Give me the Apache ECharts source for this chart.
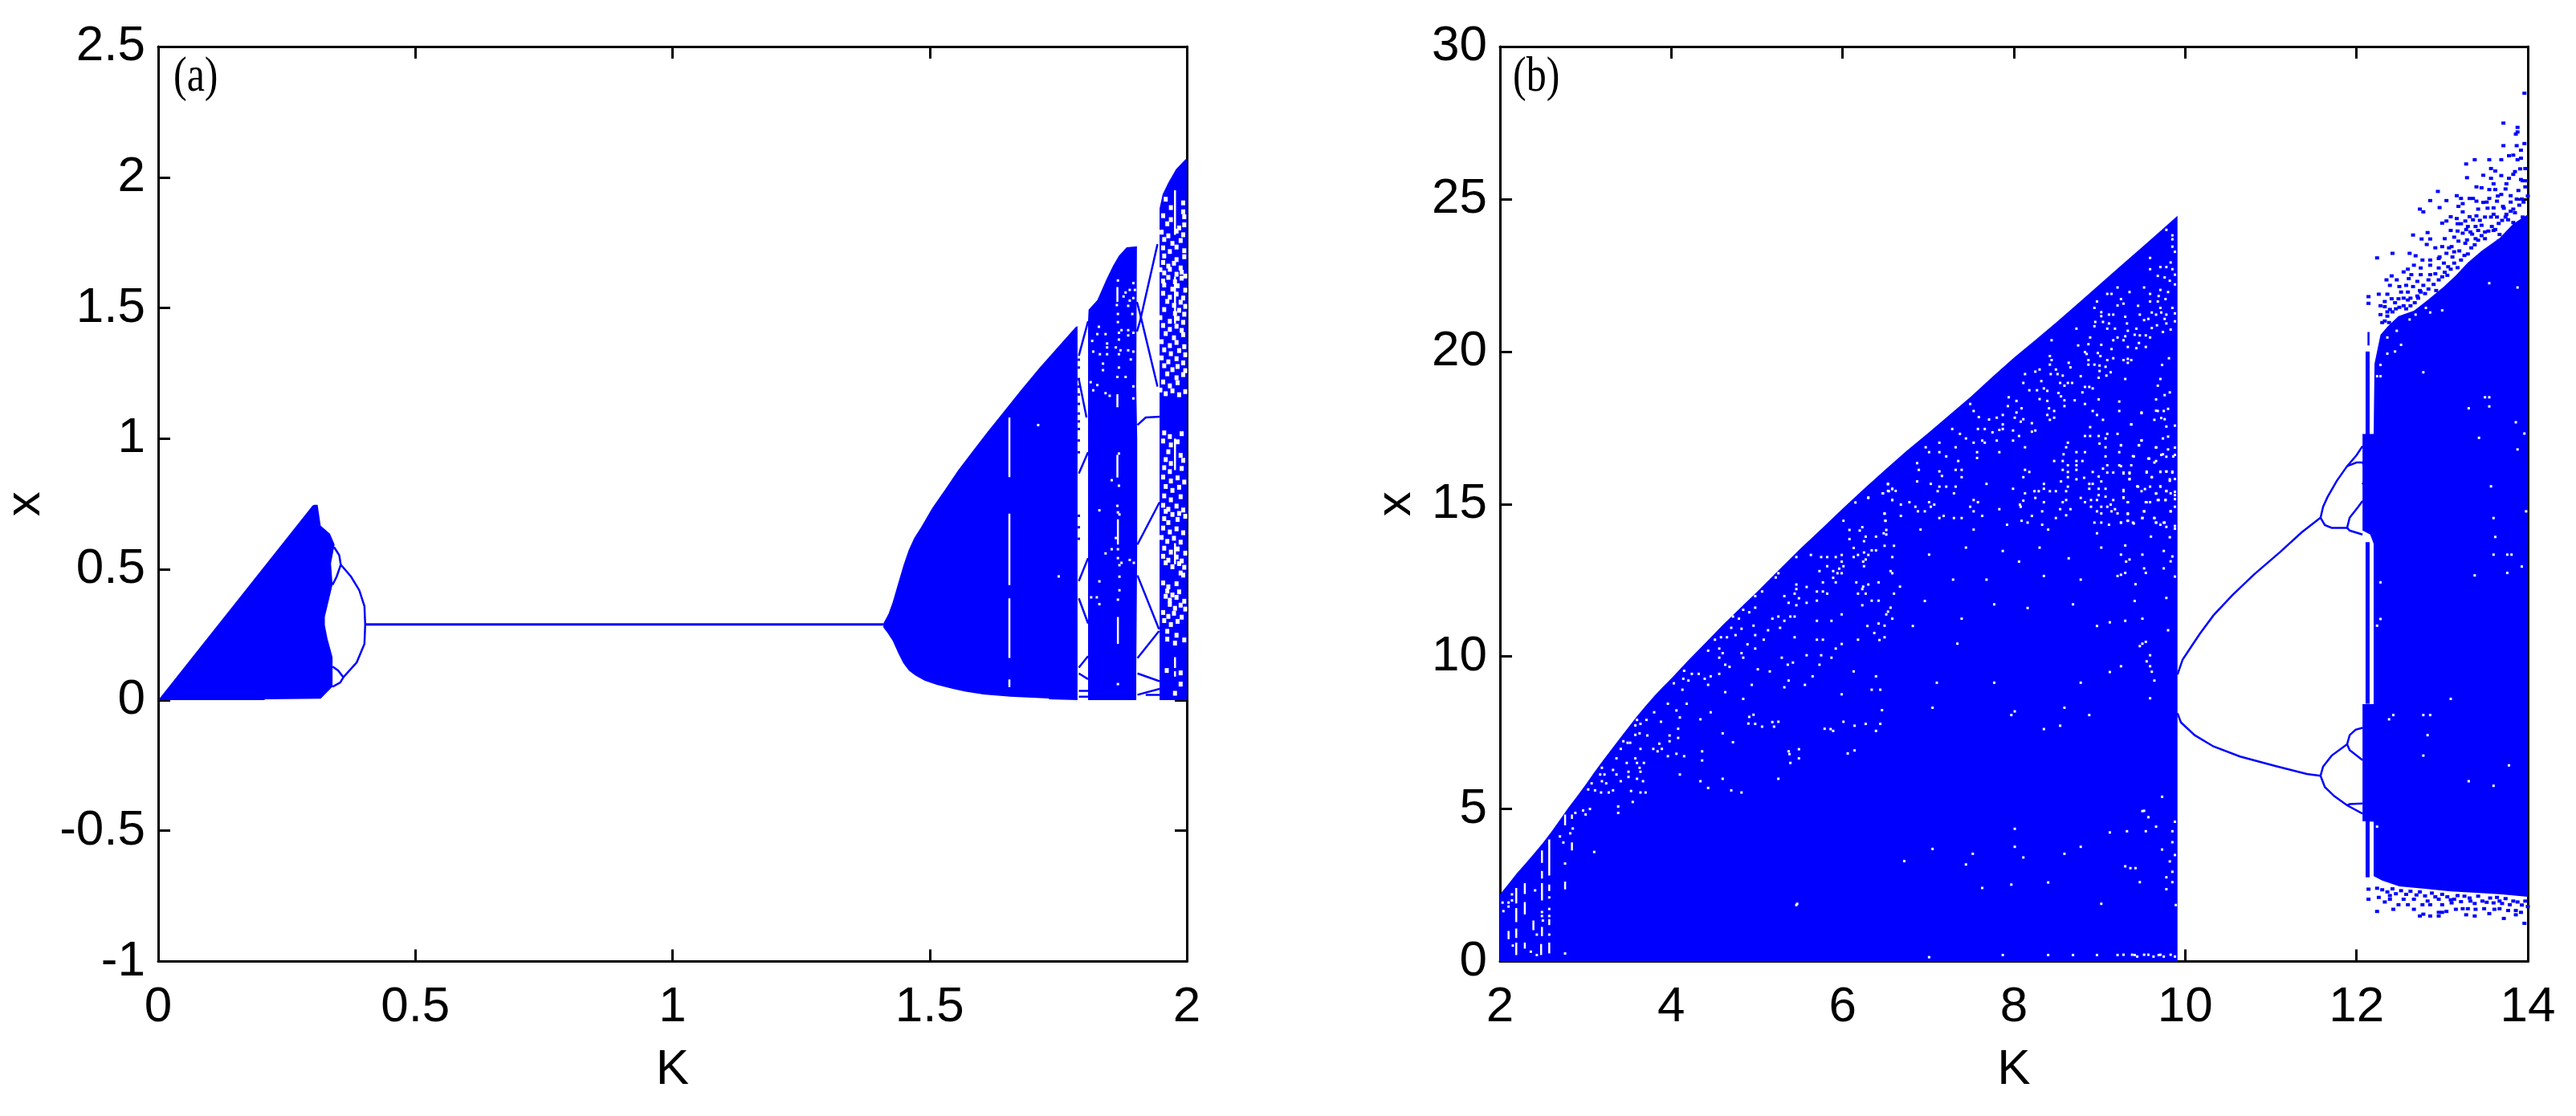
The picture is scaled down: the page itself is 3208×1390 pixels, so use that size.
<!DOCTYPE html>
<html><head><meta charset="utf-8">
<style>html,body{margin:0;padding:0;background:#fff}#c{width:3208px;height:1390px}</style>
<script src="https://cdn.jsdelivr.net/npm/echarts@6/dist/echarts.min.js"></script>
</head><body><div id="c"></div>
<script>
// ---------- panel (a) data: [K, x] ----------
const aTickK=['0','0.5','1','1.5','2'];
const aTickX=['-1','-0.5','0','0.5','1','1.5','2','2.5'];
const aFill1=[[0,0],[.30,.744],[.303,.747],[.31,.747],[.316,.667],[.334,.636],[.343,.595],[.336,.523],[.339,.441],[.324,.318],[.324,.287],[.329,.236],[.339,.164],[.339,.051],[.316,.005],[.207,.003],[.207,0]];
const aFill2=[[1.41,.293],[1.42,.33],[1.428,.374],[1.439,.448],[1.449,.515],[1.459,.573],[1.47,.62],[1.483,.66],[1.505,.735],[1.53,.805],[1.555,.878],[1.582,.948],[1.612,1.025],[1.644,1.103],[1.678,1.187],[1.714,1.272],[1.75,1.352],[1.784,1.427],[1.7875,1.43],[1.7875,0],[1.732,.003],[1.732,.006],[1.657,.013],[1.605,.021],[1.57,.032],[1.545,.043],[1.514,.058],[1.49,.074],[1.472,.094],[1.46,.112],[1.449,.14],[1.44,.175],[1.428,.227],[1.418,.257],[1.41,.278]];
const aFill3=[[1.808,0],[1.808,1.45],[1.809,1.493],[1.826,1.53],[1.844,1.611],[1.857,1.663],[1.868,1.70],[1.883,1.732],[1.903,1.736],[1.9017,1.2],[1.9035,1.0],[1.9035,.6],[1.9017,.1],[1.9017,0]];
const aFill4=[[1.947,0],[1.947,1.88],[1.953,1.935],[1.964,1.979],[1.979,2.031],[1.998,2.07],[2,2.07],[2,0]];
const aMainLine=[[.4025,.289],[1.41,.289]];
const aBranches=[
 [[.4025,.289],[.401,.359],[.391,.42],[.375,.472],[.355,.518],[.352,.554],[.342,.585]],
 [[.355,.518],[.347,.472],[.339,.441]],
 [[.4025,.289],[.401,.215],[.386,.144],[.36,.087],[.35,.113],[.339,.128]],
 [[.36,.087],[.354,.067],[.339,.051]],
 [[1.79,1.317],[1.808,1.449]],[[1.79,1.228],[1.805,1.081]],[[1.808,.948],[1.79,.867]],
 [[1.79,.455],[1.808,.543]],[[1.79,.389],[1.808,.293]],[[1.79,.124],[1.808,.168]],[[1.79,.102],[1.808,.08]],
 [[1.79,.013],[1.808,.013]],[[1.79,.035],[1.808,.035]],
 [[1.903,1.523],[1.909,1.479],[1.943,1.199]],[[1.903,1.41],[1.909,1.449],[1.943,1.744]],
 [[1.904,1.052],[1.92,1.081],[1.947,1.084]],[[1.904,.595],[1.947,.757]],
 [[1.904,.477],[1.946,.271]],[[1.904,.16],[1.946,.264]],[[1.904,.102],[1.947,.072]],
 [[1.904,.02],[1.947,.043]],[[1.92,.02],[1.947,.02]]
];
const aWhiteStripes=[[1.655,1.081,.853],[1.655,.713,.44],[1.655,.389,.161],[1.655,.079,.05],
 [1.865,1.58,1.523],[1.865,.938,.851],[1.866,.692,.595],[1.866,.318,.215],[1.865,1.17,1.12],
 [1.977,1.95,1.78],[1.977,1.62,1.44],[1.977,1.0,.88],[1.977,.6,.52],[1.977,.164,.123],[1.977,.11,.09]];
const aWhiteDots=[[1.711,1.052],[1.751,.473],[1.866,1.605],[1.896,1.595],[1.899,1.569],[1.889,1.569],[1.881,1.559],[1.877,1.544],[1.889,1.528],[1.886,1.508],[1.864,1.511],[1.896,1.538],[1.866,1.477],[1.894,1.477],[1.866,1.446],[1.829,1.428],[1.873,1.415],[1.886,1.415],[1.826,1.40],[1.842,1.40],[1.868,1.405],[1.896,1.405],[1.868,1.379],[1.886,1.395],[1.816,1.374],[1.845,1.364],[1.862,1.349],[1.845,1.349],[1.871,1.338],[1.886,1.338],[1.896,1.333],[1.818,1.333],[1.831,1.323],[1.845,1.323],[1.868,1.323],[1.891,1.303],[1.837,1.287],[1.868,1.272],[1.837,1.262],[1.865,1.236],[1.881,1.236],[1.813,1.216],[1.826,1.205],[1.896,1.2],[1.818,1.185],[1.842,1.174],[1.85,1.164],[1.896,1.154],[1.868,.943],[1.854,.841],[1.868,.82],[1.865,.743],[1.83,.726],[1.866,.718],[1.869,.71],[1.862,.62],[1.854,.577],[1.866,.577],[1.842,.561],[1.866,.543],[1.889,.536],[1.873,.525],[1.869,.516],[1.897,.525],[1.869,.472],[1.83,.454],[1.869,.42],[1.866,.384],[1.825,.393],[1.814,.393],[1.83,.367],[1.866,.061]];
const aWhiteChunks=[[1.959,1.916],[1.993,1.902],[1.969,1.884],[1.993,1.868],[1.954,1.853],[1.969,1.838],[1.995,1.849],[1.962,1.822],[1.985,1.806],[1.995,1.818],[1.951,1.79],[1.964,1.776],[1.98,1.794],[1.993,1.78],[1.956,1.762],[1.972,1.747],[1.988,1.758],[1.954,1.73],[1.967,1.716],[1.98,1.733],[1.995,1.719],[1.956,1.699],[1.98,1.685],[1.995,1.696],[1.954,1.674],[1.964,1.66],[1.975,1.671],[1.988,1.653],[1.9485,1.646],[1.956,1.634],[1.967,1.648],[1.98,1.629],[1.99,1.637],[1.997,1.622],[1.954,1.603],[1.964,1.617],[1.977,1.6],[1.99,1.614],[1.956,1.588],[1.972,1.572],[1.982,1.585],[1.997,1.568],[1.954,1.556],[1.967,1.541],[1.98,1.553],[1.993,1.538],[1.962,1.525],[1.975,1.51],[1.988,1.522],[1.997,1.506],[1.956,1.494],[1.977,1.479],[1.985,1.491],[1.995,1.476],[1.9485,1.463],[1.967,1.449],[1.982,1.46],[1.993,1.445],[1.954,1.433],[1.967,1.418],[1.98,1.43],[1.99,1.414],[1.959,1.402],[1.975,1.386],[1.993,1.398],[1.951,1.371],[1.967,1.356],[1.98,1.368],[1.995,1.352],[1.956,1.34],[1.969,1.325],[1.985,1.337],[1.997,1.321],[1.951,1.309],[1.964,1.294],[1.98,1.306],[1.993,1.29],[1.956,1.279],[1.972,1.264],[1.982,1.276],[1.997,1.26],[1.962,1.248],[1.98,1.233],[1.993,1.245],[1.954,1.217],[1.967,1.202],[1.982,1.214],[1.9485,1.186],[1.959,1.172],[1.972,1.183],[1.985,1.168],[1.997,1.18],
[1.956,1.022],[1.967,1.008],[1.99,1.019],[1.954,.991],[1.969,.976],[1.982,.988],[1.964,.95],[1.988,.936],[1.959,.92],[1.969,.905],[1.993,.917],[1.956,.889],[1.967,.874],[1.99,.886],[1.954,.853],[1.969,.838],[1.982,.85],[1.995,.834],[1.959,.817],[1.972,.802],[1.985,.814],[1.956,.781],[1.969,.766],[1.988,.778],[1.954,.745],[1.964,.73],[1.98,.742],[1.993,.727],[1.959,.722],[1.972,.71],[1.985,.714],[1.997,.703],[1.956,.694],[1.964,.679],[1.982,.691],[1.954,.658],[1.967,.643],[1.98,.655],[1.993,.64],[1.951,.622],[1.962,.607],[1.975,.619],[1.988,.604],[1.956,.581],[1.969,.566],[1.982,.578],[1.997,.562],[1.954,.55],[1.964,.535],[1.98,.547],[1.99,.532],[1.959,.525],[1.972,.51],[1.985,.522],[1.995,.508],[1.988,.486],[1.993,.478],[1.954,.448],[1.964,.433],[1.98,.445],[1.962,.417],[1.972,.402],[1.985,.414],[1.959,.397],[1.967,.382],[1.98,.393],[1.995,.378],[1.967,.366],[1.977,.351],[1.988,.363],[1.997,.348],[1.954,.335],[1.964,.32],[1.975,.332],[1.99,.317],[1.956,.304],[1.969,.289],[1.982,.301],[1.962,.263],[1.98,.248],[1.962,.233],[1.977,.218],[1.995,.23],[1.961,.113],[1.988,.104],[1.988,.061],[1.977,.026]];
const aBlueDots=[[1.79,1.302],[1.79,1.272],[1.79,1.228],[1.79,1.199],[1.79,1.169],[1.79,1.133],[1.79,1.096],[1.79,1.066],[1.79,1.037],[1.79,.993],[1.79,.948],[1.79,.705],[1.79,.661],[1.79,.617]];

// ---------- panel (b) data: [K, x] ----------
const bTickK=['2','4','6','8','10','12','14'];
const bTickX=['0','5','10','15','20','25','30'];
const bFill1=[[2,0],[2,2.2],[2.1,2.55],[2.2,2.9],[2.3,3.22],[2.4,3.55],[2.5,3.88],[2.6,4.25],[2.7,4.65],[2.8,5.05],[2.9,5.42],[3,5.8],[3.1,6.2],[3.2,6.58],[3.3,6.95],[3.4,7.32],[3.5,7.68],[3.6,8.04],[3.7,8.38],[3.8,8.7],[3.9,9.0],[4,9.28],[4.2,9.88],[4.4,10.45],[4.6,11.03],[4.8,11.58],[5,12.12],[5.25,12.82],[5.5,13.52],[5.75,14.18],[6,14.85],[6.25,15.5],[6.5,16.13],[6.75,16.75],[7,17.33],[7.25,17.93],[7.5,18.53],[7.75,19.17],[8,19.8],[8.25,20.38],[8.5,20.97],[8.75,21.58],[9,22.2],[9.25,22.82],[9.5,23.43],[9.75,24.05],[9.91,24.45],[9.91,0]];
const bFill2=[[12.21,19.6],[12.28,20.55],[12.36,20.81],[12.49,21.16],[12.67,21.34],[12.83,21.69],[13.02,22.13],[13.16,22.5],[13.3,22.92],[13.46,23.3],[13.67,23.72],[13.83,24.19],[14,24.5],[14,2.12],[13.7,2.2],[13.4,2.25],[13.1,2.3],[12.8,2.38],[12.5,2.46],[12.3,2.65],[12.2,2.8],[12.2,4.58],[12.07,4.6],[12.07,8.44],[12.2,8.44],[12.2,13.7],[12.16,14.0],[12.07,14.13],[12.07,17.3],[12.2,17.3]];
const bColumn1=[[12.106,2.76],[12.153,2.76],[12.153,4.6],[12.106,4.6]];
const bColumn2=[[12.106,8.45],[12.153,8.45],[12.153,13.75],[12.106,13.75]];
const bColumn3=[[12.106,17.27],[12.153,17.27],[12.153,20.0],[12.106,20.0]];
const bBranches=[
 [[9.91,9.41],[9.97,9.9],[10.07,10.32],[10.17,10.74],[10.33,11.35],[10.55,12.01],[10.8,12.68],[11.11,13.43],[11.36,14.07],[11.58,14.55]],
 [[9.91,8.14],[9.95,7.84],[10.11,7.42],[10.33,7.05],[10.64,6.72],[11.05,6.41],[11.42,6.15],[11.58,6.09]],
 [[11.58,14.55],[11.61,14.91],[11.66,15.22],[11.77,15.76],[11.89,16.24],[12.0,16.6],[12.07,16.9]],
 [[11.58,14.55],[11.63,14.31],[11.71,14.22],[11.89,14.22],[11.92,14.55],[12.02,14.91],[12.07,15.1]],
 [[11.89,14.22],[11.92,14.13],[12.07,14.0]],
 [[11.89,16.24],[12,16.36],[12.07,16.36],[12.1,16.18],[12.1,15.8],[12.07,15.64]],
 [[11.58,6.09],[11.61,6.39],[11.71,6.75],[11.89,7.12],[11.92,7.42],[11.99,7.6],[12.07,7.66]],
 [[11.89,7.12],[11.92,6.93],[12.07,6.6]],
 [[11.58,6.09],[11.63,5.72],[11.74,5.42],[11.89,5.12],[12.07,4.85]],
 [[11.89,5.12],[11.92,5.16],[12.07,5.18]],
 [[12.14,20.64],[12.14,20.2]]
];
const bWhiteStripes=[[2.19,2.41,1.9],[2.19,1.75,1.29],[2.19,1.08,.77],[2.19,.62,.21],[2.29,2.57,2.21],[2.29,1.95,1.54],[2.29,.62,.42],[2.49,2.57,2.0],[2.49,3.64,3.23],[2.49,2.97,2.72],[2.49,1.13,.83],[2.48,.57,.21],[2.575,4.0,2.82],[2.575,2.52,2.31],[2.575,1.39,1.19],[2.575,.62,.26],[2.39,1.34,1.03],[2.76,2.62,2.36],[2.76,4.82,4.46],[2.84,4.82,4.67],[2.84,3.9,3.64],[2.1,1.0,.73]];
const bWhiteDots1=[[2.03,1.93],[2.1,1.93],[2.1,1.8],[2.04,1.65],[2.14,2.2],[2.14,2.0],[2.41,2.33],[2.575,2.1],[2.575,1.72],[2.575,1.49],[2.49,1.62],[2.49,1.49],[2.5,1.34],[2.575,.88],[2.43,.88],[2.15,.52],[2.36,.32],[2.43,.21],[2.76,.26],[2.76,3.21],[2.74,3.9],[2.7,4.1],[3.1,3.59],[2.82,4.2],[2.85,4.36],[3.0,4.82],[3.05,5.0],[2.97,4.95],[2.88,4.87],[5.46,1.85],[3.38,5.08],[3.38,4.87],[3.55,5.23],[3.53,5.59],[3.64,5.54],[3.7,5.54],[3.32,5.61],[3.27,5.54],[3.18,5.54],[3.11,5.61],[3.03,5.64],[3.07,5.84],[3.24,5.84],[3.19,5.91],[3.41,5.91],[3.6,5.99],[3.67,5.91],[3.5,6.05],[3.36,6.13],[3.22,6.13],[3.17,6.13],[3.32,6.28],[3.5,6.22],[3.64,6.22],[3.19,6.35],[3.48,6.51],[3.6,6.51],[3.68,6.51],[3.63,6.35],[3.36,6.66],[3.58,6.66],[3.41,6.97],[3.64,6.97],[3.79,6.97],[3.84,6.89],[3.89,6.97],[3.96,6.73],[4.06,6.81],[4.15,6.73],[3.86,7.14],[3.98,7.22],[4.08,7.33],[3.49,7.17],[3.44,7.22],[3.52,7.17],[3.58,7.43],[3.63,7.48],[3.72,7.41],[3.98,7.41],[4.08,7.63],[3.58,7.74],[3.64,7.79],[3.88,7.86],[3.71,7.92],[3.6,7.92],[3.8,8.17],[3.96,8.45],[4.06,8.23],[4.1,8.0],[4.18,8.45],[4.34,7.94],[4.46,8.17],[4.36,6.89],[4.36,6.59],[4.1,6.13],[4.34,5.91],[4.43,5.69],[4.6,5.99],[4.7,5.61],[4.82,5.54],[4.6,7.48],[4.72,7.19],[4.91,8.02],[4.96,8.09],[4.98,7.79],[5.06,7.7],[5.2,7.7],[5.25,7.86],[5.25,5.99],[5.37,6.89],[5.49,6.96],[5.49,6.66],[5.39,6.51],[5.79,7.63],[5.89,7.56],[6.01,7.86],[6.06,6.82],[6.27,7.79],[6.39,7.56],[6.44,7.79],[6.46,8.24],[5.99,8.76],[6.34,8.91],[6.44,8.91],[6.39,9.35],[6.13,9.51],[5.65,9.35],[5.56,9.07],[5.32,8.99],[5.37,9.21],[5.15,9.51],[5.01,9.58],[4.94,9.07],[4.84,8.61],[4.63,8.83],[4.56,9.43],[4.43,9.07],[4.46,9.35],[4.39,9.27],[4.32,9.43],[4.24,9.43],[4.2,9.21],[4.13,8.91],[4.15,9.53],[4.14,9.27],[4.03,9.12],[4.68,9.66],[4.63,9.73],[4.56,9.96],[4.6,10.11],[4.43,10.19],[4.56,10.26],[4.82,10.11],[4.84,9.96],[4.98,10.26],[4.89,10.4],[5.08,10.55],[4.98,10.7],[4.82,10.91],[4.75,10.7],[4.65,10.63],[4.58,10.63],[4.51,10.55],[4.7,10.94],[4.96,11.01],[5.13,10.86],[5.27,10.94],[5.44,10.63],[5.29,9.96],[5.36,9.73],[5.42,9.8],[5.58,10.04],[5.75,10.04],[5.73,9.73],[5.87,9.96],[5.92,10.26],[5.99,10.41],[5.7,10.55],[5.77,10.55],[6.18,10.55],[5.7,11.17],[5.87,11.17],[5.99,11.38],[5.32,11.17],[5.25,11.31],[5.18,11.24],[5.39,11.31],[5.44,11.31],[4.98,11.6],[4.84,11.53],[4.91,11.45],[4.79,11.24],[4.72,11.31],[5.06,12.13],[4.98,11.98],[5.32,11.98],[5.37,11.76],[5.46,11.68],[5.49,11.91],[5.44,12.06],[5.46,12.21],[5.46,12.36],[5.58,12.28],[5.58,11.76],[5.7,11.83],[5.7,12.13],[5.77,12.13],[5.82,12.06],[5.77,12.43],[5.73,12.8],[5.22,12.59],[5.25,12.73],[6.23,11.68],[6.34,11.83],[6.42,11.83],[6.56,11.6],[6.42,11.08],[6.49,11.01],[6.37,10.77],[6.49,10.63],[6.51,11.38],[6.16,12.43],[6.23,12.21],[6.18,12.06],[6.3,12.36],[6.42,12.43],[6.27,12.06],[5.89,12.58],[5.92,12.43],[5.89,12.8],[5.94,12.73],[5.99,12.73],[5.96,12.88],[6.01,12.96],[5.99,13.11],[5.82,12.96],[6.25,12.96],[5.75,13.26],[5.82,13.26],[5.92,13.26],[5.63,13.33],[5.46,13.26],[5.99,13.33],[6.13,13.26],[6.18,13.33],[6.25,13.41],[6.3,13.33],[6.27,13.18],[6.34,13.48],[6.39,13.48],[6.13,13.56],[6.08,13.85],[6.08,14.15],[6.01,14.45],[6.2,14.13],[6.23,14.24],[6.27,13.93],[6.25,13.78],[6.39,13.93],[6.49,13.63],[6.51,14.0],[6.51,14.15],[6.5,14.45],[6.49,14.68],[6.3,15.21],[6.15,15.05],[6.47,15.35],[6.54,15.42],[6.58,15.49],[6.53,15.65],[6.58,15.13],[6.56,12.8],[6.58,12.73],[6.58,13.26],[6.6,13.63],[6.6,12.06]];
const bWhiteDots2=[[9.78,23.99],[9.85,23.81],[9.85,23.68],[9.85,23.44],[9.59,23.07],[9.88,23.27],[9.83,22.92],[9.59,22.7],[9.71,22.77],[9.78,22.77],[9.85,22.7],[9.68,22.48],[9.76,22.43],[9.82,22.32],[9.88,22.52],[9.21,22.1],[9.52,22.1],[9.35,21.95],[9.71,22.02],[9.8,21.95],[9.88,22.2],[9.09,21.89],[9.14,21.89],[9.59,21.89],[9.69,21.82],[9.77,21.72],[9.25,21.72],[9.59,21.64],[9.68,21.64],[8.97,21.64],[9.21,21.51],[9.28,21.57],[9.45,21.5],[8.94,21.43],[9.71,21.43],[9.85,21.43],[9.02,21.29],[9.61,21.28],[9.66,21.21],[9.72,21.28],[9.78,21.21],[9.88,21.25],[9.11,21.21],[9.16,21.21],[9.3,21.14],[9.02,21.16],[9.47,21.21],[9.52,21.03],[9.57,21.07],[9.76,21.07],[9.88,20.99],[8.95,20.97],[9.04,20.97],[9.32,20.92],[9.11,20.92],[9.61,20.77],[9.67,20.86],[9.78,20.92],[8.73,20.75],[8.94,20.83],[9.09,20.75],[9.18,20.75],[9.43,20.75],[9.33,20.68],[9.74,20.64],[9.83,20.72],[9.3,20.5],[9.41,20.55],[9.47,20.53],[9.54,20.53],[9.59,20.46],[8.44,20.37],[8.89,20.46],[9.21,20.46],[9.16,20.37],[9.28,20.37],[9.46,20.28],[8.75,20.2],[8.87,20.24],[9.02,20.22],[9.33,20.15],[9.43,20.11],[9.54,20.15],[9.14,20.08],[8.83,19.98],[8.98,19.95],[8.85,19.92],[8.42,19.85],[9.01,19.85],[9.16,19.78],[8.44,19.72],[8.87,19.72],[9.09,19.72],[9.28,19.72],[9.33,19.76],[9.37,19.72],[9.33,19.63],[9.81,19.78],[8.42,19.57],[8.87,19.57],[8.94,19.57],[9.0,19.54],[9.07,19.5],[9.73,19.56],[8.64,19.63],[8.66,19.48],[8.3,19.41],[8.25,19.34],[8.49,19.41],[9.13,19.32],[9.0,19.36],[8.13,19.26],[8.43,19.26],[8.51,19.26],[8.57,19.21],[8.78,19.19],[9.08,19.21],[8.99,19.14],[9.3,19.1],[9.71,19.1],[8.32,19.03],[8.11,18.97],[8.54,18.97],[8.63,18.97],[8.68,18.97],[8.59,18.88],[9.68,18.88],[8.83,18.84],[8.35,18.79],[8.88,18.84],[8.92,18.79],[8.18,18.73],[8.27,18.73],[8.39,18.71],[8.8,18.66],[8.52,18.64],[9.82,18.66],[9.76,18.57],[7.94,18.5],[8.55,18.53],[8.3,18.44],[8.03,18.38],[8.39,18.38],[8.59,18.4],[8.71,18.4],[8.99,18.43],[9.23,18.36],[9.66,18.43],[7.49,18.28],[7.93,18.21],[8.59,18.21],[8.83,18.28],[8.09,18.14],[8.41,18.14],[8.47,18.05],[7.53,18.05],[8.03,18.0],[8.92,18.05],[9.23,18.05],[9.68,18.05],[9.75,18.05],[9.49,17.98],[8.39,17.92],[7.87,17.92],[8.97,17.92],[7.59,17.85],[7.8,17.83],[8.01,17.83],[8.47,17.83],[7.71,17.77],[8.11,17.78],[8.42,17.76],[9.04,17.76],[9.64,17.76],[9.76,17.78],[8.08,17.7],[8.21,17.65],[7.87,17.61],[9.37,17.61],[7.58,17.46],[7.28,17.46],[7.66,17.46],[7.83,17.43],[7.87,17.46],[7.99,17.41],[8.25,17.41],[8.21,17.37],[8.89,17.52],[7.75,17.35],[7.37,17.3],[8.83,17.23],[8.89,17.23],[8.99,17.23],[9.09,17.3],[9.21,17.3],[8.06,17.23],[7.44,17.15],[9.07,17.15],[7.63,17.08],[7.8,17.08],[7.99,17.08],[9.49,17.08],[7.13,17.01],[7.53,17.01],[7.66,17.01],[8.63,17.01],[9.0,16.98],[9.25,16.92],[9.46,16.92],[6.97,16.86],[7.32,16.86],[8.13,16.86],[8.61,16.86],[9.07,16.86],[9.66,16.86],[7.01,16.7],[7.13,16.7],[7.57,16.7],[7.83,16.7],[8.73,16.7],[8.83,16.7],[9.23,16.7],[9.74,16.63],[8.58,16.63],[7.21,16.56],[7.57,16.51],[9.07,16.56],[9.4,16.56],[9.58,16.49],[9.86,16.56],[8.57,16.41],[8.47,16.41],[8.73,16.41],[8.8,16.41],[7.35,16.41],[6.87,16.34],[9.66,16.41],[8.63,16.27],[8.73,16.27],[9.09,16.27],[9.23,16.27],[9.37,16.27],[6.89,16.12],[7.32,16.12],[7.39,16.12],[7.13,16.07],[8.13,16.12],[8.57,16.12],[8.73,16.12],[9.04,16.16],[9.71,16.05],[8.18,16.05],[8.63,16.05],[8.92,16.05],[9.09,16.03],[9.16,16.03],[9.28,16.03],[9.35,16.03],[9.55,16.03],[9.78,16.07],[9.85,16.03],[7.16,15.92],[7.39,15.88],[8.11,15.88],[8.63,15.88],[8.82,15.86],[8.99,15.9],[9.61,15.88],[6.87,15.74],[8.55,15.74],[8.73,15.81],[9.35,15.81],[9.82,15.81],[9.02,15.74],[6.53,15.66],[7.03,15.66],[7.68,15.66],[8.35,15.66],[8.88,15.66],[8.92,15.66],[7.13,15.57],[7.21,15.57],[7.32,15.57],[8.63,15.57],[9.45,15.57],[9.59,15.57],[9.71,15.57],[7.99,15.5],[8.35,15.5],[8.88,15.5],[8.99,15.5],[9.07,15.5],[6.58,15.5],[6.53,15.43],[6.62,15.43],[7.11,15.42],[8.24,15.42],[8.29,15.42],[8.42,15.42],[8.49,15.42],[8.61,15.42],[9.28,15.42],[9.49,15.42],[9.78,15.42],[6.47,15.35],[7.3,15.35],[8.13,15.35],[9.66,15.35],[9.83,15.35],[8.99,15.29],[9.07,15.24],[6.3,15.2],[8.25,15.2],[8.78,15.2],[9.28,15.2],[9.88,15.29],[6.58,15.13],[7.53,15.13],[8.11,15.11],[8.61,15.13],[8.9,15.13],[8.97,15.13],[9.16,15.13],[9.68,15.13],[9.77,15.13],[6.78,15.06],[7.01,15.06],[7.58,15.06],[8.35,15.06],[8.57,15.06],[8.83,15.06],[9.33,15.06],[9.54,15.06],[9.59,15.06],[6.68,14.98],[7.07,14.98],[8.07,14.98],[9.13,14.98],[7.03,14.91],[6.85,14.91],[7.49,14.91],[8.08,14.91],[8.9,14.91],[9.02,14.91],[9.09,14.91],[9.88,14.91],[7.83,14.83],[8.54,14.83],[8.66,14.83],[9.18,14.83],[6.88,14.76],[6.96,14.76],[7.53,14.76],[8.33,14.76],[8.97,14.76],[9.14,14.76],[9.52,14.76],[9.83,14.76],[6.49,14.69],[9.02,14.69],[9.21,14.69],[9.33,14.69],[8.61,14.63],[6.68,14.61],[7.63,14.61],[8.21,14.61],[7.13,14.54],[7.18,14.61],[7.3,14.54],[7.39,14.54],[8.49,14.54],[9.5,14.54],[9.64,14.54],[6.5,14.45],[8.09,14.45],[9.33,14.45],[8.94,14.39],[9.02,14.39],[9.11,14.32],[9.25,14.39],[8.16,14.39],[9.66,14.39],[9.76,14.39],[7.92,14.32],[8.33,14.32],[9.4,14.36],[9.71,14.32],[9.78,14.25],[9.88,14.28]];
const bWhiteDots3=[[9.8,18.12],[9.66,18.06],[9.72,17.82],[9.49,18.0],[9.37,17.61],[9.78,17.54],[9.88,17.57],[9.74,17.15],[9.8,17.21],[9.49,17.09],[9.25,16.93],[9.46,16.93],[9.66,16.85],[9.8,16.79],[9.88,16.85],[9.39,16.57],[9.57,16.49],[9.64,16.36],[9.72,16.61],[9.78,16.55],[9.88,16.61],[9.25,16.24],[9.28,16.0],[9.35,16.0],[9.55,16.06],[9.71,16.06],[9.78,16.06],[9.85,16.06],[9.35,15.82],[9.61,15.88],[9.82,15.76],[9.88,15.82],[9.44,15.58],[9.53,15.49],[9.71,15.58],[9.78,15.43],[9.88,15.4],[9.28,15.46],[9.28,15.22],[9.33,15.06],[9.55,15.06],[9.66,15.34],[9.69,15.13],[9.77,15.13],[9.88,15.16],[9.52,14.76],[9.83,14.76],[9.33,14.67],[9.5,14.54],[9.64,14.54],[9.33,14.45],[9.25,14.39],[9.39,14.39],[9.66,14.39],[9.75,14.39],[9.88,14.19],[9.82,13.91],[9.3,13.64],[9.75,13.46],[9.25,13.34],[9.35,13.18],[9.83,13.12],[9.85,13.28],[9.52,12.89],[9.75,12.89],[9.54,12.74],[9.25,12.68],[9.3,12.74],[9.88,12.62],[9.42,12.37],[9.78,11.92],[9.3,11.17],[9.8,10.86],[9.54,10.48],[9.47,10.34],[9.59,10.04],[9.25,9.68],[9.59,9.68],[9.61,9.5],[9.64,9.21],[9.59,8.63],[9.73,5.4],[9.52,4.94],[9.57,4.73],[9.66,4.42],[9.54,4.27],[9.32,4.27],[9.88,4.58],[9.85,4.27],[9.85,3.91],[9.73,3.67],[9.82,3.28],[9.88,3.49],[9.3,3.12],[9.42,3.06],[9.85,2.94],[9.78,2.76],[9.47,2.6],[9.85,2.6],[9.78,2.37],[9.89,1.85],[9.28,.22],[9.38,.22],[9.44,.16],[9.52,.22],[9.57,.22],[9.63,.16],[9.71,.22],[9.75,.16],[9.83,.22],[9.88,.16],
[7.05,3.69],[7.44,3.18],[7.52,3.53],[8.01,3.76],[8.11,3.41],[7.97,2.52],[7.63,2.41],[8.4,2.59],[8.59,3.53],[8.78,3.76],[9.12,4.23],[8.01,4.35],[9.36,3.06],[9.02,1.89],[9.5,4.93],[5.47,1.89],[6.72,3.29],[7.01,.14],[7.87,.21],[8.4,.21],[8.69,.21],[8.97,.21],[9.21,.21],[9.41,.21],[9.69,.21],
[6.29,11],[6.58,11.24],[6.82,11],[6.43,10.54],[7.1,9.14],[7.05,8.32],[7.34,10.42],[7.77,9.14],[7.97,8.08],[8.01,8.2],[8.59,8.32],[8.54,7.73],[8.35,7.62],[8.88,8.08],[8.78,9.14],[9.12,9.49],[9.5,10.42],[9.55,9.84],[8.97,11],[9.12,11.12],[9.5,11.24],[9.41,11.82],[8.16,11.59],[8.69,11.71],[7.39,11.24],[7.77,11.71],[6.96,11.82],[6.53,11.47],[6.24,12.29],[6.67,12.29],[7.29,12.52],[7.68,12.52],[8.35,12.64],[8.78,12.52],[9.21,12.64],[8.06,13.11],[8.64,13.22],[9.31,13.11],[6.24,13.11],[7.01,13.34],[7.44,13.57],[7.87,13.46],[8.3,13.57],[9.02,13.57],[9.5,13.34],[6.48,14.04],[6.91,14.16],[7.53,14.16],[8.4,14.16],[8.97,14.04],[9.6,13.93],[5.86,7.62],[6.14,7.73],[6.14,6.92],[4.9,7.8],[5.18,7.85],[5.38,6.8],
[13.55,22.24],[13.88,22.1],[12.78,19.32],[13.5,18.5],[13.55,18.5],[13.55,18.2],[13.31,18.14],[13.86,17.68],[12.52,20.22],[12.45,20.0],[12.36,19.93],[12.28,19.56],[12.24,19.19],[12.28,19.19],[13.0,21.35],[12.81,21.43],[12.86,21.28],[12.62,21.05],[12.69,21.21],[12.47,20.68],[12.36,20.46],[13.96,17.31],[13.43,17.17],[13.88,16.79],[13.57,15.58],[13.98,14.76],[13.6,14.54],[13.62,13.92],[13.6,13.34],[13.76,13.34],[13.81,13.34],[13.93,12.95],[13.38,12.66],[13.76,12.74],[12.28,12.43],[12.28,11.23],[12.24,11.01],[13.1,8.61],[12.43,8.08],[12.38,7.94],[12.78,8.08],[12.86,8.08],[12.83,7.42],[12.78,6.75],[13.78,6.43],[13.31,5.91],[13.6,5.76],[12.24,4.42]];
const bBlueTop=[[13.96,28.47],[13.715,27.49],[13.88,27.35],[13.88,27.2],[13.86,27.13],[13.715,26.75],[13.96,26.82],[13.87,26.75],[13.78,26.42],[13.83,26.44],[13.88,26.29],[13.92,26.6],[13.92,26.34],[13.69,26.29],[13.55,26.29],[13.38,26.29],[13.28,26.15],[13.29,25.7],[13.48,25.78],[13.57,26.0],[13.62,25.92],[13.69,25.77],[13.78,25.68],[13.91,25.99],[13.92,25.64],[13.83,25.81],[13.57,25.68],[13.6,25.5],[13.4,25.4],[13.46,25.37],[13.55,25.31],[13.62,25.31],[13.69,25.15],[13.74,25.33],[13.8,25.11],[13.89,25.28],[12.95,25.25],[12.86,24.95],[13.05,24.95],[13.17,25.11],[12.97,24.72],[12.74,24.67],[12.78,24.58],[13.22,25.02],[13.32,25.02],[13.36,25.02],[13.4,24.93],[13.48,24.89],[13.24,24.85],[13.19,24.76],[13.42,24.67],[13.55,25.02],[13.64,24.93],[13.71,24.76],[13.6,24.71],[13.83,24.67],[13.94,24.41],[13.24,24.58],[13.1,24.42],[13.17,24.36],[13.32,24.42],[13.05,24.28],[13,24.21],[13.27,24.28],[13.36,24.32],[13.5,24.41],[13.57,24.41],[13.64,24.41],[13.74,24.41],[13.77,24.32],[13.83,24.23],[13.92,24.21],[13.18,24.19],[13.22,24.19],[13.3,24.1],[13.39,24.1],[13.46,24.14],[13.1,23.97],[12.83,23.9],[12.66,23.82],[12.76,23.69],[12.86,23.69],[13.03,23.7],[13.14,23.75],[13.24,23.88],[13.33,23.92],[13.42,23.97],[13.5,23.92],[13.6,23.97],[13.67,23.84],[13.66,23.62],[12.82,23.51],[12.92,23.4],[13,23.44],[13.11,23.44],[13.19,23.62],[13.29,23.66],[13.39,23.7],[12.62,23.22],[12.42,23.22],[12.24,23.07],[12.69,23.14],[12.77,23.0],[12.86,23],[12.96,23.05],[13.05,23.22],[13.14,23.27],[12.67,22.83],[12.75,22.74],[12.86,22.83],[12.96,22.74],[13.07,22.78],[12.55,22.61],[12.6,22.7],[12.64,22.52],[12.41,22.48],[12.75,22.52],[12.86,22.52],[12.35,22.35],[12.47,22.35],[12.61,22.39],[12.71,22.3],[12.39,22.17],[12.5,22.13],[12.58,22.17],[12.66,22.13],[12.78,22.17],[12.52,21.95],[12.6,21.95],[12.71,21.82],[12.26,21.88],[12.36,21.88],[12.41,21.73],[12.49,21.73],[12.6,21.69],[12.14,21.8],[12.14,21.58],[12.33,21.64],[12.28,21.5],[12.33,21.47],[12.39,21.38],[12.28,21.21],[12.36,21.16],
[12.3,20.95],[12.33,21.0],[12.38,20.95],[12.42,21.3],[12.46,21.4],[12.5,21.45],[12.55,21.5],[12.58,21.4],[12.63,21.5],[12.68,21.6],[12.72,21.75],[12.75,21.95],[12.8,21.9],[12.84,22.05],[12.9,22.2],[12.93,22.0],[12.96,22.35],[13.0,22.45],[13.03,22.6],[13.06,22.5],[13.1,22.7],[13.14,22.9],[13.18,22.75],[13.22,23.0],[13.26,23.15],[13.3,23.2],[13.34,23.4],[13.38,23.5],[13.42,23.65],[13.46,23.8],[13.5,23.7],[13.54,23.95],[13.58,24.1],[13.62,24.0],[13.66,24.2],[13.7,24.3],[13.75,24.5],[13.8,24.6],[13.85,24.55],[13.9,24.8],[13.95,24.9],[14.0,25.1],[13.97,25.4],[13.93,25.0],[13.87,25.0],[13.8,24.9],[13.72,24.7],[13.6,24.5],[13.53,24.7],[13.44,24.3],[13.35,23.85],[13.27,23.55],[13.2,23.3],[13.12,23.1],[13.02,22.9],[12.92,22.55],[12.84,22.35],[12.74,22.0],[12.63,21.75],[12.55,21.75],[12.45,21.6],[12.36,21.3],[12.97,23.1],[13.08,23.4],[13.18,23.95],[13.28,24.0],[13.4,24.45],[13.52,24.9],[13.65,25.1],[13.75,25.5],[13.85,25.9],[13.97,26.0],[13.98,25.6],[13.94,25.6]];
const bBlueLow=[[13.96,1.25],[13.72,1.41],[13.86,1.53],[13.28,1.53],[13.38,1.49],[13.55,1.57],[12.96,1.49],[12.86,1.49],[12.74,1.49],[12.78,1.55],[12.43,1.71],[12.24,1.64],[12.67,1.71],[12.96,1.61],[13,1.61],[13.05,1.64],[13.16,1.71],[13.24,1.73],[13.3,1.73],[13.39,1.71],[13.49,1.73],[13.61,1.71],[13.67,1.73],[13.77,1.67],[13.92,1.61],[13.86,1.67],[12.49,1.86],[12.6,1.86],[12.77,1.86],[12.86,1.86],[13,1.86],[13.11,1.92],[12.33,1.95],[12.39,2.04],[12.14,2.04],[12.26,2.1],[12.14,2.37],[12.24,2.4],[12.39,2.16],[12.55,2.04],[12.67,2.04],[12.83,1.98],[12.96,2.04],[13.14,2.04],[13.33,1.98],[13.52,1.94],[13.67,1.98],[13.83,1.98],
[12.3,2.35],[12.36,2.28],[12.42,2.38],[12.46,2.22],[12.52,2.32],[12.58,2.2],[12.63,2.3],[12.7,2.18],[12.74,2.28],[12.8,2.15],[12.88,2.24],[12.92,2.12],[13,2.2],[13.06,2.12],[13.1,2.02],[13.18,2.16],[13.22,1.96],[13.26,2.14],[13.32,2.08],[13.38,1.9],[13.42,2.14],[13.47,1.98],[13.56,2.08],[13.6,1.92],[13.64,2.1],[13.7,1.9],[13.74,2.06],[13.79,1.86],[13.88,1.95],[13.93,1.85],[13.97,1.98],[14,1.8]];

// ---------- drawing ----------
const BLUE='#0000ff', INK='#000', FONT='"Liberation Sans",Arial,sans-serif', FS=62;
const fill=(ax,pts)=>({type:'custom',coordinateSystem:'cartesian2d',xAxisIndex:ax,yAxisIndex:ax,silent:true,z:2,
  data:pts,renderItem:(p,api)=>p.dataIndex?null:{type:'polygon',shape:{points:pts.map(q=>api.coord(q))},style:{fill:BLUE}}});
const line=(ax,pts,color,w,z)=>({type:'line',xAxisIndex:ax,yAxisIndex:ax,data:pts,symbol:'none',silent:true,z,
  lineStyle:{color,width:w,cap:'butt',join:'miter'},connectNulls:false});
const stripes=(ax,list,w)=>line(ax,list.flatMap(s=>[[s[0],s[1]],[s[0],s[2]],['-','-']]),'#fff',w,3);
const dots=(ax,pts,color,size,z)=>({type:'scatter',xAxisIndex:ax,yAxisIndex:ax,data:pts,symbol:'rect',symbolSize:size,silent:true,z,
  itemStyle:{color,opacity:1},large:false});
const lab={show:true,color:INK,fontFamily:FONT,fontSize:FS,margin:26};
const axisLine={show:true,onZero:false,lineStyle:{color:INK,width:3}};
const tick={show:true,inside:true,length:15,lineStyle:{color:INK,width:3}};
const nameStyle={fontFamily:FONT,fontSize:FS,color:INK};
const xAx=(min,max,iv,labels,gi,name,gap)=>[
 {type:'value',gridIndex:gi,min,max,interval:iv,position:'bottom',axisLine,axisTick:tick,splitLine:{show:false},
  axisLabel:{...lab,formatter:v=>labels[Math.round((v-min)/iv)]},name,nameLocation:'middle',nameGap:gap,nameTextStyle:nameStyle},
 {type:'value',gridIndex:gi,min,max,interval:iv,position:'top',axisLine,axisTick:tick,axisLabel:{show:false},splitLine:{show:false}}];
const yAx=(min,max,iv,labels,gi,name,gap)=>[
 {type:'value',gridIndex:gi,min,max,interval:iv,position:'left',axisLine,axisTick:tick,splitLine:{show:false},
  axisLabel:{...lab,margin:16,formatter:v=>labels[Math.round((v-min)/iv)]},name,nameLocation:'middle',nameGap:gap,nameRotate:90,nameTextStyle:nameStyle},
 {type:'value',gridIndex:gi,min,max,interval:iv,position:'right',axisLine,axisTick:tick,axisLabel:{show:false},splitLine:{show:false}}];
const panelTag=(text,x,y)=>({type:'text',x,y,scaleY:1.22,z:20,style:{text,font:'50px "Liberation Serif",serif',fill:INK}});

const chart=echarts.init(document.getElementById('c'),null,{renderer:'canvas',width:3208,height:1390});
chart.setOption({
 animation:false,backgroundColor:'#fff',
 grid:[{left:196,top:58,width:1282,height:1139.5},{left:1868,top:58,width:1280,height:1139.5}],
 xAxis:[...xAx(0,2,.5,aTickK,0,'K',104),...xAx(2,14,2,bTickK,1,'K',104)],
 yAxis:[...yAx(-1,2.5,.5,aTickX,0,'x',134),...yAx(0,30,5,bTickX,1,'x',98)],
 graphic:[panelTag('(a)',216,66),panelTag('(b)',1884,66)],
 series:[
  fill(0,aFill1),fill(0,aFill2),fill(0,aFill3),fill(0,aFill4),
  line(0,aMainLine,BLUE,3,5),
  ...aBranches.map(b=>line(0,b,BLUE,2.5,5)),
  stripes(0,aWhiteStripes,2.5),
  dots(0,aWhiteDots,'#fff',3,4),
  dots(0,aWhiteChunks,'#fff',[5,6],4),
  dots(0,aBlueDots,BLUE,3,5),
  fill(2,bFill1),fill(2,bFill2),fill(2,bColumn1),fill(2,bColumn2),fill(2,bColumn3),
  ...bBranches.map(b=>line(2,b,BLUE,2.5,5)),
  stripes(2,bWhiteStripes,2.5),
  dots(2,bWhiteDots1,'#fff',3,4),dots(2,bWhiteDots2,'#fff',3,4),dots(2,bWhiteDots3,'#fff',3,4),
  dots(2,bBlueTop,BLUE,[5,4],5),dots(2,bBlueLow,BLUE,[5,4],5)
 ]
});
</script></body></html>
